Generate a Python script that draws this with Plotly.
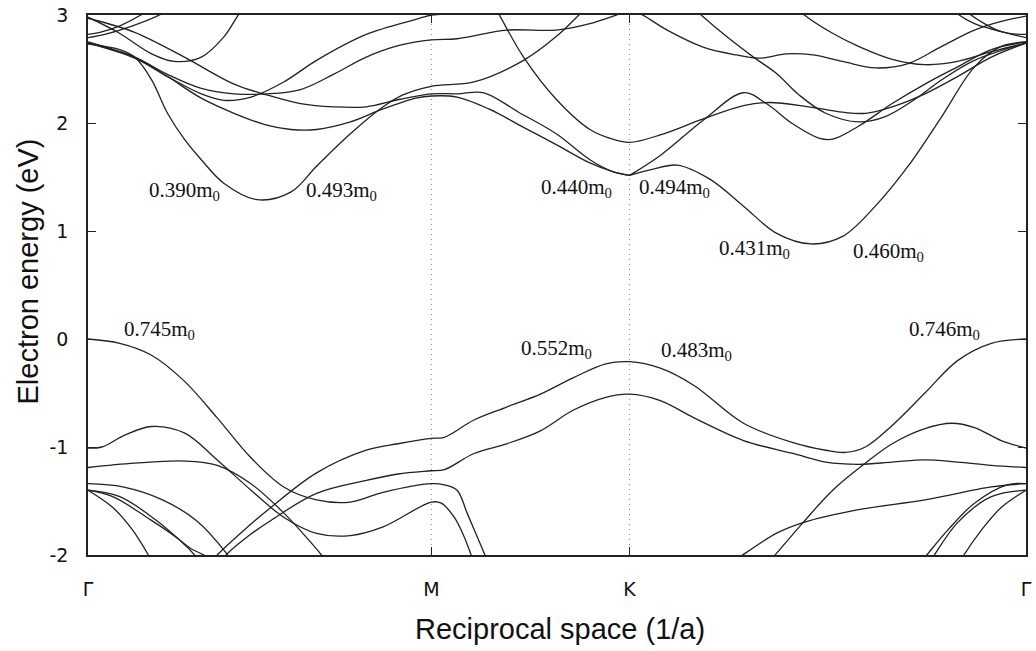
import plotly.graph_objects as go

# High-symmetry points along the path Γ–M–K–Γ (1/a)
sym_k = [0.0, 3.628, 5.722, 9.911]
sym_labels = ["Γ", "M", "K", "Γ"]

# ---------------- conduction bands ----------------
k_cb_c = [0, 0.493, 1.018, 1.543, 1.890, 2.247, 2.593, 2.940, 3.297, 3.628, 3.900, 4.183, 4.549, 4.947, 5.303, 5.544, 5.722]
e_cb_c = [2.97, 2.84, 2.61, 2.36, 2.26, 2.18, 2.15, 2.15, 2.22, 2.27, 2.27, 2.28, 2.10, 1.90, 1.66, 1.55, 1.515]

k_cb_b = [0, 0.493, 0.840, 1.197, 1.543, 1.890, 2.142, 2.415, 2.772, 3.118, 3.465, 3.628, 3.900, 4.235, 4.602, 4.947, 5.303, 5.544, 5.722]
e_cb_b = [2.74, 2.61, 2.43, 2.23, 2.09, 1.98, 1.94, 1.94, 2.01, 2.13, 2.23, 2.25, 2.24, 2.13, 1.96, 1.80, 1.63, 1.55, 1.515]

k_cb_low = [0, 0.336, 0.493, 0.672, 0.840, 1.018, 1.197, 1.438, 1.785, 2.142, 2.415, 2.772, 3.118, 3.328, 3.628, 4.078, 4.602, 4.947, 5.199, 5.387]
e_cb_low = [2.73, 2.68, 2.61, 2.40, 2.09, 1.85, 1.66, 1.44, 1.29, 1.36, 1.60, 1.90, 2.15, 2.26, 2.34, 2.38, 2.58, 2.80, 3.01, 3.17]

k_cb_d = [0, 0.493, 0.840, 1.197, 1.543, 1.890, 2.247, 2.593, 2.940, 3.297, 3.628, 3.900, 4.424, 4.947, 5.303, 5.617, 5.722,
          5.837, 6.120, 6.507, 6.853, 7.094, 7.377, 7.659, 7.973, 8.319, 8.665, 9.021, 9.367, 9.649, 9.911]
e_cb_d = [2.75, 2.61, 2.45, 2.32, 2.27, 2.27, 2.31, 2.45, 2.61, 2.72, 2.77, 2.78, 2.86, 2.86, 2.92, 3.01, 3.04,
          3.01, 2.86, 2.70, 2.63, 2.60, 2.64, 2.63, 2.57, 2.51, 2.55, 2.71, 2.86, 2.94, 2.99]

k_cb_f = [0, 0.493, 0.840, 1.197, 1.438, 1.722, 2.068, 2.415, 2.940, 3.465, 3.628, 3.764, 4.026]
e_cb_f = [2.74, 2.60, 2.43, 2.27, 2.21, 2.24, 2.38, 2.58, 2.82, 2.96, 3.00, 3.01, 3.07]

k_cb_r1 = [0, 0.126, 0.336, 0.577, 0.756]
e_cb_r1 = [2.82, 2.84, 2.90, 3.01, 3.12]

k_cb_r2 = [0, 0.178, 0.441, 0.777, 0.966]
e_cb_r2 = [2.79, 2.82, 2.89, 3.01, 3.12]

k_cb_p = [0, 0.315, 0.672, 0.913, 1.197, 1.438, 1.596, 1.701]
e_cb_p = [2.98, 2.84, 2.64, 2.57, 2.61, 2.80, 3.01, 3.12]

k_cb_g = [4.235, 4.340, 4.602, 4.947, 5.303, 5.544, 5.722, 6.047, 6.507, 6.926, 7.199, 7.617, 7.973, 8.214, 8.497, 8.843, 9.188, 9.545, 9.911]
e_cb_g = [3.17, 3.01, 2.61, 2.22, 1.94, 1.85, 1.82, 1.89, 2.04, 2.16, 2.19, 2.15, 2.10, 2.09, 2.15, 2.27, 2.43, 2.61, 2.74]

k_cb_bump = [5.722, 6.047, 6.507, 6.926, 7.167, 7.450, 7.722, 7.869, 8.141, 8.497, 8.843, 9.188, 9.545, 9.911]
e_cb_bump = [1.515, 1.70, 2.03, 2.28, 2.18, 1.99, 1.86, 1.85, 1.97, 2.18, 2.36, 2.52, 2.68, 2.75]

k_cb_kv = [5.722, 5.963, 6.225, 6.570, 6.926, 7.272, 7.638, 7.973, 8.319, 8.665, 9.021, 9.367, 9.649, 9.911]
e_cb_kv = [1.515, 1.57, 1.61, 1.48, 1.23, 0.98, 0.88, 0.95, 1.23, 1.60, 2.06, 2.52, 2.71, 2.75]

k_cb_h = [6.329, 6.465, 6.748, 7.031, 7.272, 7.513, 7.795, 8.141, 8.424, 8.738, 9.021, 9.367, 9.911]
e_cb_h = [3.12, 3.01, 2.80, 2.61, 2.46, 2.26, 2.09, 2.01, 2.06, 2.22, 2.40, 2.58, 2.74]

k_cb_e = [7.429, 7.555, 7.848, 8.141, 8.497, 8.843, 9.188, 9.545, 9.911]
e_cb_e = [3.12, 3.01, 2.84, 2.71, 2.59, 2.54, 2.57, 2.66, 2.74]

k_cb_t1 = [9.052, 9.188, 9.367, 9.545, 9.733, 9.911]
e_cb_t1 = [3.12, 3.01, 2.92, 2.87, 2.83, 2.82]

k_cb_t2 = [9.178, 9.314, 9.471, 9.607, 9.764, 9.911]
e_cb_t2 = [3.12, 3.01, 2.92, 2.86, 2.82, 2.79]

# ---------------- valence bands ----------------
k_vb_top = [0, 0.336, 0.672, 1.018, 1.365, 1.722, 2.068, 2.415, 2.772, 3.118, 3.628, 3.764, 3.900, 4.005, 4.204, 4.288]
e_vb_top = [0, -0.04, -0.15, -0.39, -0.73, -1.10, -1.37, -1.49, -1.51, -1.42, -1.34, -1.35, -1.40, -1.61, -2.02, -2.19]

k_vb_bump = [0, 0.147, 0.388, 0.672, 1.018, 1.365, 1.722, 2.068, 2.415, 2.772, 3.118, 3.628, 3.733, 3.869, 3.974, 4.057, 4.131]
e_vb_bump = [-1.01, -1.00, -0.89, -0.81, -0.87, -1.12, -1.40, -1.65, -1.80, -1.82, -1.74, -1.51, -1.52, -1.65, -1.83, -2.02, -2.19]

k_vb_flat = [0, 0.493, 1.018, 1.365, 1.722, 2.068, 2.331, 2.467, 2.541]
e_vb_flat = [-1.19, -1.15, -1.13, -1.17, -1.34, -1.61, -1.86, -2.00, -2.09]

k_vb_k1 = [1.281, 1.365, 1.648, 1.932, 2.415, 2.940, 3.276, 3.628, 3.764, 4.078, 4.424, 4.780, 5.125, 5.471, 5.722,
           6.047, 6.403, 6.926, 7.450, 7.795, 8.005, 8.214, 8.497, 8.843, 9.188, 9.545, 9.911]
e_vb_k1 = [-2.09, -2.00, -1.77, -1.56, -1.24, -1.03, -0.97, -0.92, -0.91, -0.75, -0.63, -0.51, -0.36, -0.23, -0.21,
           -0.27, -0.43, -0.78, -0.96, -1.03, -1.05, -1.00, -0.80, -0.50, -0.20, -0.04, 0.0]

k_vb_k2 = [1.386, 1.459, 1.701, 1.932, 2.415, 2.940, 3.276, 3.628, 3.764, 4.078, 4.424, 4.780, 5.125, 5.471, 5.722,
           6.047, 6.403, 6.926, 7.450, 7.795, 8.141, 8.497, 8.843, 9.188, 9.545, 9.911]
e_vb_k2 = [-2.09, -2.00, -1.82, -1.68, -1.43, -1.31, -1.25, -1.22, -1.21, -1.06, -0.97, -0.85, -0.66, -0.54, -0.51,
           -0.57, -0.73, -0.94, -1.06, -1.14, -1.16, -1.14, -1.12, -1.14, -1.17, -1.19]

k_vb_s1 = [0, 0.367, 0.787, 1.144, 1.459, 1.512]
e_vb_s1 = [-1.34, -1.37, -1.49, -1.68, -1.98, -2.05]
k_vb_s2 = [0, 0.262, 0.619, 0.966, 1.144, 1.176]
e_vb_s2 = [-1.40, -1.46, -1.65, -1.86, -2.02, -2.07]
k_vb_s3 = [0, 0.336, 0.724, 1.071, 1.260, 1.302]
e_vb_s3 = [-1.40, -1.46, -1.68, -1.93, -2.02, -2.07]
k_vb_s4 = [0, 0.262, 0.472, 0.651, 0.682]
e_vb_s4 = [-1.40, -1.56, -1.77, -2.02, -2.07]

k_vb_u1 = [8.790, 8.843, 9.084, 9.367, 9.712, 9.911]
e_vb_u1 = [-2.07, -2.02, -1.77, -1.52, -1.35, -1.34]
k_vb_u2 = [8.885, 8.927, 9.188, 9.545, 9.911]
e_vb_u2 = [-2.07, -2.02, -1.70, -1.46, -1.40]
k_vb_u3 = [9.210, 9.241, 9.440, 9.649, 9.911]
e_vb_u3 = [-2.07, -2.02, -1.77, -1.56, -1.40]

k_vb_rise = [6.801, 6.884, 7.272, 7.555, 8.141, 8.843, 9.545, 9.911]
e_vb_rise = [-2.07, -2.02, -1.80, -1.70, -1.58, -1.49, -1.37, -1.34]

k_vb_hump = [7.167, 7.240, 7.555, 7.869, 8.214, 8.497, 8.843, 9.126, 9.367, 9.649, 9.911]
e_vb_hump = [-2.09, -2.02, -1.70, -1.40, -1.15, -0.97, -0.83, -0.78, -0.82, -0.94, -1.01]

bands = [
    (k_cb_c, e_cb_c), (k_cb_b, e_cb_b), (k_cb_low, e_cb_low), (k_cb_d, e_cb_d), (k_cb_f, e_cb_f),
    (k_cb_r1, e_cb_r1), (k_cb_r2, e_cb_r2), (k_cb_p, e_cb_p), (k_cb_g, e_cb_g), (k_cb_bump, e_cb_bump),
    (k_cb_kv, e_cb_kv), (k_cb_h, e_cb_h), (k_cb_e, e_cb_e), (k_cb_t1, e_cb_t1), (k_cb_t2, e_cb_t2),
    (k_vb_top, e_vb_top), (k_vb_bump, e_vb_bump), (k_vb_flat, e_vb_flat), (k_vb_k1, e_vb_k1),
    (k_vb_k2, e_vb_k2), (k_vb_s1, e_vb_s1), (k_vb_s2, e_vb_s2), (k_vb_s3, e_vb_s3), (k_vb_s4, e_vb_s4),
    (k_vb_u1, e_vb_u1), (k_vb_u2, e_vb_u2), (k_vb_u3, e_vb_u3), (k_vb_rise, e_vb_rise), (k_vb_hump, e_vb_hump),
]

# Effective masses at the band extrema
mass_labels = ["0.390", "0.493", "0.440", "0.494", "0.431", "0.460", "0.745", "0.552", "0.483", "0.746"]
mass_pos = [(0.619, 1.37), (2.278, 1.37), (4.769, 1.40), (5.806, 1.40), (6.644, 0.83),
            (8.057, 0.81), (0.357, 0.08), (4.549, -0.09), (6.036, -0.11), (8.654, 0.08)]

line_color = "#222222"
title_font = dict(family="Liberation Sans", size=29, color="#111111")

fig = go.Figure()
for k, e in bands:
    fig.add_trace(go.Scatter(x=k, y=e, mode="lines",
                             line=dict(color=line_color, width=1.3, shape="spline", smoothing=1.0),
                             hoverinfo="skip", showlegend=False))

# dotted guides at the interior high-symmetry points
for kx in sym_k[1:3]:
    fig.add_shape(type="line", xref="x", yref="paper", x0=kx, x1=kx, y0=0, y1=1,
                  line=dict(color="#8a8a8a", width=1, dash="1px,4px"), layer="below")

for txt, (kx, ey) in zip(mass_labels, mass_pos):
    fig.add_annotation(x=kx, y=ey, xref="x", yref="y", text=f"{txt}m<sub>0</sub>",
                       showarrow=False, xanchor="left", yanchor="middle",
                       font=dict(family="Liberation Serif", size=21, color="#111111"))

# axis titles
fig.add_annotation(x=-0.064, y=0.525, xref="paper", yref="paper", text="Electron energy (eV)",
                   textangle=-90, showarrow=False, xanchor="center", yanchor="middle", font=title_font)
fig.add_annotation(x=0.503, y=-0.1365, xref="paper", yref="paper", text="Reciprocal space (1/a)",
                   showarrow=False, xanchor="center", yanchor="middle", font=title_font)

fig.update_layout(
    width=1036, height=651,
    margin=dict(l=88, r=4, t=13, b=96),
    paper_bgcolor="white", plot_bgcolor="white",
    xaxis=dict(range=[sym_k[0], sym_k[-1]], tickvals=sym_k, ticktext=sym_labels,
               ticks="inside", ticklen=8, tickcolor="#222", showgrid=False, zeroline=False,
               showline=True, linecolor="#222", linewidth=1.5, mirror="ticks",
               ticklabelstandoff=16,
               tickfont=dict(family="DejaVu Sans", size=19, color="#111")),
    yaxis=dict(range=[-2, 3], tickvals=[-2, -1, 0, 1, 2, 3], ticktext=["-2", "-1", "0", "1", "2", "3"],
               ticks="inside", ticklen=8, tickcolor="#222", showgrid=False, zeroline=False,
               showline=True, linecolor="#222", linewidth=1.5, mirror="ticks",
               ticklabelstandoff=14,
               tickfont=dict(family="DejaVu Sans", size=19, color="#111")),
)

fig.write_html("out.html")
